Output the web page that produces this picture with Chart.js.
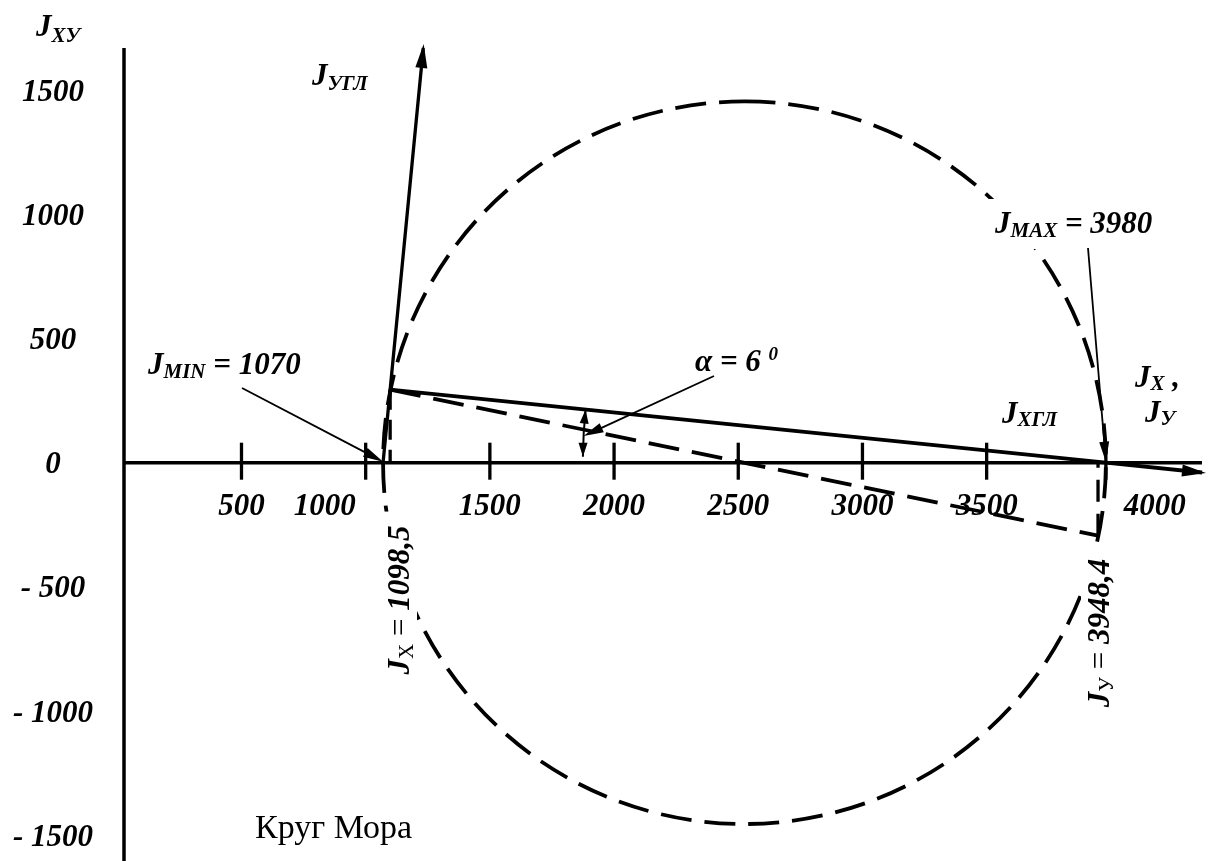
<!DOCTYPE html>
<html>
<head>
<meta charset="utf-8">
<script src="https://cdn.jsdelivr.net/npm/chart.js@4/dist/chart.umd.min.js"></script>
<style>
  html, body { margin: 0; padding: 0; background: #fff; }
  #wrap { width: 1211px; height: 861px; }
</style>
</head>
<body>
<div id="wrap"><canvas id="c" width="1211" height="861"></canvas></div>
<script>
// Moments of inertia of the section
const principalMoments = [1070, 3980];   // J_MIN, J_MAX
const axialMoments = [1098.5, 3948.4];   // J_X, J_Y
const productMoment = [294];             // J_XY
const rotationAngle = [6];               // alpha, degrees

// Axis ticks and labels
const xTickValues = [500, 1000, 1500, 2000, 2500, 3000, 3500];
const xLabelValues = [500, 1000, 1500, 2000, 2500, 3000, 3500, 4000];
const xLabelTexts = ['500', '1000', '1500', '2000', '2500', '3000', '3500', '4000'];
const yLabelValues = [1500, 1000, 500, 0, -500, -1000, -1500];
const yLabelTexts = ['1500', '1000', '500', '0', '- 500', '- 1000', '- 1500'];

// Visible window of the diagram
const X_MIN = 27, X_MAX = 4367, Y_MIN = -1604, Y_MAX = 1670;

const [jMin, jMax] = principalMoments;
const [jX, jY] = axialMoments;
const jXY = productMoment[0];

const pole = { x: jX, y: jXY };
const opposite = { x: jY, y: -jXY };
const minPoint = { x: jMin, y: 0 };
const maxPoint = { x: jMax, y: 0 };

// point where the line p->q reaches the given value of x or y
function extendLine(p, q, key, target) {
  const t = (target - p[key]) / (q[key] - p[key]);
  return { x: p.x + t * (q.x - p.x), y: p.y + t * (q.y - p.y) };
}

const SERIF = '"Liberation Serif", "Times New Roman", Times, serif';
const F_MAIN = `bold italic 31px ${SERIF}`;
const F_SUB = `bold italic 21px ${SERIF}`;
const F_PLAIN = `31px ${SERIF}`;
const F_PLAIN_SUB = `21px ${SERIF}`;
const F_SUP = `bold italic 19px ${SERIF}`;

function runText(ctx, x, y, parts, opts) {
  opts = opts || {};
  ctx.save();
  ctx.translate(x, y);
  if (opts.rotate) ctx.rotate(opts.rotate);
  ctx.textBaseline = 'alphabetic';
  ctx.textAlign = 'left';
  let total = 0;
  const widths = parts.map(([t, f]) => {
    ctx.font = f;
    const w = ctx.measureText(t).width;
    total += w;
    return w;
  });
  let cx = opts.center ? -total / 2 : 0;
  if (opts.box) {
    const b = opts.box;
    ctx.fillStyle = '#fff';
    ctx.fillRect(cx - b.padX, -b.up, total + 2 * b.padX, b.up + b.down);
  }
  ctx.fillStyle = '#000';
  parts.forEach(([t, f, dy], i) => {
    ctx.font = f;
    ctx.fillText(t, cx, dy || 0);
    cx += widths[i];
  });
  ctx.restore();
}

function arrowHead(ctx, tip, dir, len, half) {
  const d = Math.hypot(dir.x, dir.y);
  const ux = dir.x / d, uy = dir.y / d;
  const bx = tip.x - ux * len, by = tip.y - uy * len;
  ctx.beginPath();
  ctx.moveTo(tip.x, tip.y);
  ctx.lineTo(bx - uy * half, by + ux * half);
  ctx.lineTo(bx + uy * half, by - ux * half);
  ctx.closePath();
  ctx.fill();
}

function pointer(ctx, tail, tip, len, half) {
  const dir = { x: tip.x - tail.x, y: tip.y - tail.y };
  const d = Math.hypot(dir.x, dir.y);
  ctx.beginPath();
  ctx.moveTo(tail.x, tail.y);
  ctx.lineTo(tip.x - dir.x / d * (len - 2), tip.y - dir.y / d * (len - 2));
  ctx.lineWidth = 1.8;
  ctx.stroke();
  arrowHead(ctx, tip, dir, len, half);
}

const mohrPlugin = {
  id: 'mohr',
  beforeDatasetsDraw(chart) {
    const { ctx, chartArea: a, scales: { x: xs, y: ys } } = chart;
    const y0 = ys.getPixelForValue(0);
    ctx.save();
    ctx.strokeStyle = '#000';
    ctx.fillStyle = '#000';
    ctx.lineCap = 'butt';

    // vertical axis J_XY
    ctx.lineWidth = 3.5;
    ctx.beginPath();
    ctx.moveTo(a.left, a.top);
    ctx.lineTo(a.left, a.bottom);
    ctx.stroke();

    // horizontal axis J_X, J_Y
    ctx.beginPath();
    ctx.moveTo(a.left, y0);
    ctx.lineTo(a.right, y0);
    ctx.stroke();

    // tick marks
    ctx.lineWidth = 3.3;
    xTickValues.concat([jMax]).forEach(v => {
      const px = xs.getPixelForValue(v);
      ctx.beginPath();
      ctx.moveTo(px, y0 - 20);
      ctx.lineTo(px, y0 + 17);
      ctx.stroke();
    });

    // Mohr circle
    const cxp = xs.getPixelForValue((jMin + jMax) / 2);
    const rx = xs.getPixelForValue(jMax) - cxp;
    const ry = y0 - ys.getPixelForValue((jMax - jMin) / 2);
    ctx.lineWidth = 3.8;
    ctx.setLineDash([31, 13]);
    ctx.beginPath();
    ctx.ellipse(cxp, y0, rx, ry, 0, -Math.PI / 2, 1.5 * Math.PI);
    ctx.stroke();
    ctx.setLineDash([]);

    // tick labels
    const nudge = { 1000: -41, 4000: 44 };
    ctx.font = F_MAIN;
    ctx.textAlign = 'center';
    ctx.textBaseline = 'alphabetic';
    xLabelValues.forEach((v, i) => {
      ctx.fillText(xLabelTexts[i], xs.getPixelForValue(v) + (nudge[v] || 0), y0 + 52);
    });
    yLabelValues.forEach((v, i) => {
      ctx.fillText(yLabelTexts[i], 53, ys.getPixelForValue(v) + 10.5);
    });

    // axis names and annotations
    runText(ctx, 36, 36, [['J', F_MAIN], ['XУ', F_SUB, 6]]);
    runText(ctx, 312, 85, [['J', F_MAIN], ['УГЛ', F_SUB, 5]]);
    runText(ctx, 148, 374, [['J', F_MAIN], ['MIN', F_SUB, 4], [' = ' + jMin, F_MAIN]]);
    runText(ctx, 995, 233, [['J', F_MAIN], ['MAX', F_SUB, 4], [' = ' + jMax, F_MAIN]],
      { box: { padX: 6, up: 34, down: 16 } });
    runText(ctx, 695, 371, [['α = ' + rotationAngle[0] + ' ', F_MAIN], ['0', F_SUP, -11]]);
    runText(ctx, 1002, 423, [['J', F_MAIN], ['XГЛ', F_SUB, 3]]);
    runText(ctx, 1135, 387, [['J', F_MAIN], ['X', F_SUB, 3], [' ,', F_MAIN]]);
    runText(ctx, 1145, 422, [['J', F_MAIN], ['У', F_SUB, 3]]);

    const fmt = v => String(v).replace('.', ',');
    runText(ctx, 409, 600, [['J', F_MAIN], ['X', F_PLAIN_SUB, 4], [' = ', F_PLAIN], [fmt(jX), F_MAIN]],
      { rotate: -Math.PI / 2, center: true, box: { padX: 14, up: 28, down: 8 } });
    runText(ctx, 1109, 633, [['J', F_MAIN], ['У', F_PLAIN_SUB, 4], [' = ', F_PLAIN], [fmt(jY), F_MAIN]],
      { rotate: -Math.PI / 2, center: true, box: { padX: 12, up: 28, down: 8 } });

    ctx.font = `34px ${SERIF}`;
    ctx.textAlign = 'left';
    ctx.fillText('Круг Мора', 255, 838);
    ctx.restore();
  },
  afterDatasetsDraw(chart) {
    const { ctx, scales: { x: xs, y: ys } } = chart;
    const y0 = ys.getPixelForValue(0);
    ctx.save();
    ctx.strokeStyle = '#000';
    ctx.fillStyle = '#000';

    // arrowheads of the rotated axes
    [0, 1].forEach(i => {
      const pts = chart.getDatasetMeta(i).data;
      const p = pts[pts.length - 1], q = pts[pts.length - 2];
      const dir = { x: p.x - q.x, y: p.y - q.y };
      const d = Math.hypot(dir.x, dir.y);
      const tip = { x: p.x + dir.x / d * 4, y: p.y + dir.y / d * 4 };
      arrowHead(ctx, tip, dir, 24, 6);
    });

    // pointers to J_MIN and J_MAX
    pointer(ctx, { x: 242, y: 388 }, { x: xs.getPixelForValue(jMin), y: y0 - 1 }, 20, 5);
    pointer(ctx, { x: 1088, y: 248 }, { x: xs.getPixelForValue(jMax), y: y0 - 1 }, 20, 5);

    // angle arc between the J_XГЛ axis and the horizontal axis
    const cx = xs.getPixelForValue(jMax);
    const px = xs.getPixelForValue(pole.x), py = ys.getPixelForValue(pole.y);
    const R = 523;
    const t1 = Math.atan2(py - y0, px - cx);
    const t2 = -Math.PI + Math.asin(6 / R);
    ctx.lineWidth = 2;
    ctx.beginPath();
    ctx.arc(cx, y0, R, t2, t1);
    ctx.stroke();
    arrowHead(ctx, { x: cx + R * Math.cos(t1), y: y0 + R * Math.sin(t1) },
      { x: -Math.sin(t1), y: Math.cos(t1) }, 14, 4.5);
    arrowHead(ctx, { x: cx + R * Math.cos(t2), y: y0 + R * Math.sin(t2) },
      { x: Math.sin(t2), y: -Math.cos(t2) }, 14, 4.5);
    const tm = (t1 - Math.PI) / 2;
    pointer(ctx, { x: 714, y: 376 }, { x: cx + R * Math.cos(tm), y: y0 + R * Math.sin(tm) }, 20, 5);
    ctx.restore();
  }
};

const lineStyle = {
  showLine: true, borderColor: '#000', backgroundColor: '#000',
  pointRadius: 0, pointHoverRadius: 0, fill: false, clip: false, tension: 0
};

new Chart(document.getElementById('c'), {
  type: 'scatter',
  data: {
    datasets: [
      // principal axis J_XГЛ: pole -> J_MAX, continued to the edge
      Object.assign({ label: 'J_XГЛ', borderWidth: 3.8,
        data: [pole, maxPoint, extendLine(pole, maxPoint, 'x', X_MAX)] }, lineStyle),
      // principal axis J_УГЛ: J_MIN -> pole, continued to the top
      Object.assign({ label: 'J_УГЛ', borderWidth: 3.3,
        data: [minPoint, pole, extendLine(minPoint, pole, 'y', Y_MAX)] }, lineStyle),
      // circle diameter through (J_X, J_XY) and (J_Y, -J_XY)
      Object.assign({ label: 'diameter', borderWidth: 3.8, borderDash: [31, 13],
        data: [pole, opposite] }, lineStyle),
      Object.assign({ label: 'J_X', borderWidth: 3.3, borderDash: [20, 10],
        data: [pole, { x: jX, y: 0 }] }, lineStyle),
      Object.assign({ label: 'J_Y', borderWidth: 3.3, borderDash: [22, 12],
        data: [opposite, { x: jY, y: 0 }] }, lineStyle)
    ]
  },
  options: {
    responsive: false,
    animation: false,
    events: [],
    layout: { padding: { left: 124, right: 9, top: 48, bottom: 0 } },
    scales: {
      x: { type: 'linear', min: X_MIN, max: X_MAX, display: false },
      y: { type: 'linear', min: Y_MIN, max: Y_MAX, display: false }
    },
    plugins: { legend: { display: false }, tooltip: { enabled: false } }
  },
  plugins: [mohrPlugin]
});
</script>
</body>
</html>
